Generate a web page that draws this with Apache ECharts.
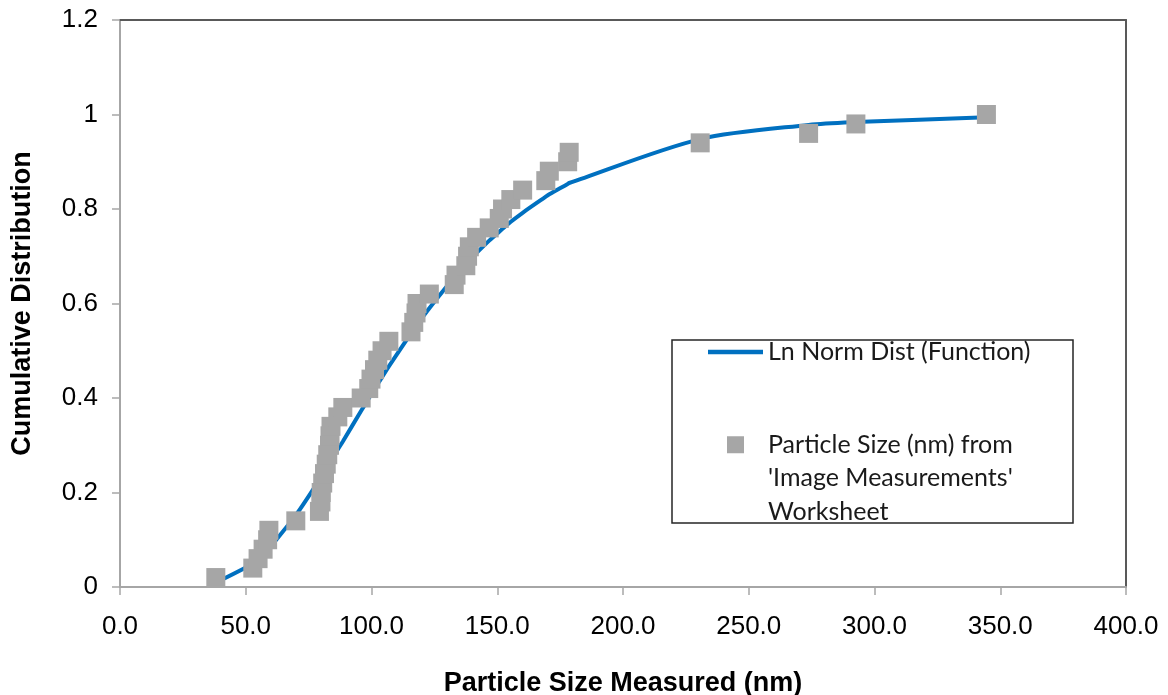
<!DOCTYPE html>
<html>
<head>
<meta charset="utf-8">
<script src="https://cdn.jsdelivr.net/npm/echarts@6/dist/echarts.min.js"></script>
<style>
  html, body { margin: 0; padding: 0; background: #fff; }
  #chart { width: 1168px; height: 695px; }
</style>
</head>
<body>
<div id="chart"></div>
<script>
// Measured particle sizes (nm), sorted ascending
const particleSizes = [
  38.1, 52.8, 54.9, 56.9, 58.7, 59.2, 69.9, 79.3, 79.9, 80.0,
  80.6, 81.3, 82.0, 82.6, 83.3, 83.5, 83.9, 86.6, 88.6, 95.9,
  98.9, 99.8, 101.2, 102.5, 104.2, 106.9, 115.7, 116.8, 117.7, 118.1,
  123.0, 132.9, 133.6, 137.5, 138.2, 138.9, 141.8, 146.8, 150.8, 152.1,
  155.4, 160.1, 169.3, 170.7, 178.0, 178.6, 230.7, 273.8, 292.6, 344.5
];

// Empirical cumulative fraction for each measured particle
const cumulative = [
  0.02, 0.04, 0.06, 0.08, 0.10, 0.12, 0.14, 0.16, 0.18, 0.20,
  0.22, 0.24, 0.26, 0.28, 0.30, 0.32, 0.34, 0.36, 0.38, 0.40,
  0.42, 0.44, 0.46, 0.48, 0.50, 0.52, 0.54, 0.56, 0.58, 0.60,
  0.62, 0.64, 0.66, 0.68, 0.70, 0.72, 0.74, 0.76, 0.78, 0.80,
  0.82, 0.84, 0.86, 0.88, 0.90, 0.92, 0.94, 0.96, 0.98, 1.00
];

// Log-normal distribution function evaluated at the same sizes
const lnNormCurve = [
  0.009, 0.049, 0.059, 0.069, 0.078, 0.081, 0.152, 0.227, 0.233, 0.233,
  0.239, 0.245, 0.251, 0.256, 0.262, 0.264, 0.267, 0.291, 0.308, 0.373,
  0.399, 0.407, 0.419, 0.430, 0.444, 0.467, 0.537, 0.545, 0.552, 0.555,
  0.590, 0.656, 0.660, 0.683, 0.687, 0.691, 0.707, 0.733, 0.752, 0.758,
  0.773, 0.792, 0.826, 0.831, 0.853, 0.855, 0.948, 0.978, 0.984, 0.994
];

const xTicks = { min: 0, max: 400, step: 50 };
const yTicks = { min: 0, max: 1.2, step: 0.2 };

const lineName = 'Ln Norm Dist (Function)';
const pointName = "Particle Size (nm) from\n'Image Measurements'\nWorksheet";

const curveData = particleSizes.map((x, i) => [x, lnNormCurve[i]]);
const pointData = particleSizes.map((x, i) => [x, cumulative[i]]);

const axisGray = '#a6a6a6';
const borderGray = '#595959';
const sansFont = '"Liberation Sans", Arial, sans-serif';
const legendFont = 'Lato, "Noto Sans", sans-serif';

const chart = echarts.init(document.getElementById('chart'), null, { renderer: 'canvas' });

chart.setOption({
  animation: false,
  backgroundColor: '#ffffff',
  grid: {
    left: 120, right: 42, top: 20, bottom: 108,
    containLabel: false,
    outerBoundsMode: 'none'
  },
  xAxis: [
    {
      type: 'value',
      min: xTicks.min, max: xTicks.max, interval: xTicks.step,
      name: 'Particle Size Measured (nm)',
      nameLocation: 'middle',
      nameGap: 83,
      nameTextStyle: { fontFamily: sansFont, fontSize: 27, fontWeight: 'bold', color: '#000' },
      axisLine: { show: true, onZero: false, lineStyle: { color: axisGray, width: 2 } },
      axisTick: { show: true, inside: false, length: 8, lineStyle: { color: axisGray, width: 1.5 } },
      axisLabel: {
        margin: 27,
        fontFamily: sansFont, fontSize: 26, color: '#000',
        formatter: v => v.toFixed(1)
      },
      splitLine: { show: false }
    },
    {
      type: 'value', position: 'top',
      min: xTicks.min, max: xTicks.max,
      axisLine: { show: true, onZero: false, lineStyle: { color: borderGray, width: 2 } },
      axisTick: { show: false }, axisLabel: { show: false }, splitLine: { show: false }
    }
  ],
  yAxis: [
    {
      type: 'value',
      min: yTicks.min, max: yTicks.max, interval: yTicks.step,
      name: 'Cumulative Distribution',
      nameLocation: 'middle',
      nameGap: 84,
      nameTextStyle: { fontFamily: sansFont, fontSize: 27, fontWeight: 'bold', color: '#000' },
      axisLine: { show: true, onZero: false, lineStyle: { color: axisGray, width: 2 } },
      axisTick: { show: true, inside: false, length: 8, lineStyle: { color: axisGray, width: 1.5 } },
      axisLabel: {
        margin: 22,
        fontFamily: sansFont, fontSize: 26, color: '#000',
        formatter: v => String(Math.round(v * 10) / 10)
      },
      splitLine: { show: false }
    },
    {
      type: 'value', position: 'right',
      min: yTicks.min, max: yTicks.max,
      axisLine: { show: true, onZero: false, lineStyle: { color: borderGray, width: 2 } },
      axisTick: { show: false }, axisLabel: { show: false }, splitLine: { show: false }
    }
  ],
  legend: {
    show: true,
    orient: 'vertical',
    left: 708,
    top: 339,
    padding: 0,
    itemWidth: 55,
    itemHeight: 17,
    itemGap: -4,
    selectedMode: false,
    symbolKeepAspect: true,
    // the multi-line entry starts level with its marker
    formatter: name => (name === pointName ? '\n\n' + name : name),
    textStyle: { fontFamily: legendFont, fontSize: 25, color: '#1a1a1a', lineHeight: 26 },
    data: [
      { name: lineName, icon: 'path://M0,0H55V4.5H0Z' },
      {
        name: pointName,
        icon: 'path://M0,0H10V10H0Z',
        textStyle: { lineHeight: 33.5 }
      }
    ]
  },
  graphic: [
    {
      type: 'rect',
      z: 1,
      silent: true,
      shape: { x: 672, y: 340, width: 401, height: 183 },
      style: { fill: '#ffffff', stroke: '#262626', lineWidth: 1.5 }
    }
  ],
  series: [
    {
      name: lineName,
      type: 'line',
      xAxisIndex: 0, yAxisIndex: 0,
      data: curveData,
      smooth: 0.3,
      symbol: 'none',
      lineStyle: { color: '#0070c0', width: 4 },
      itemStyle: { color: '#0070c0' },
      z: 2
    },
    {
      name: pointName,
      type: 'scatter',
      xAxisIndex: 0, yAxisIndex: 0,
      data: pointData,
      symbol: 'rect',
      symbolSize: 19,
      itemStyle: { color: '#a6a6a6', opacity: 1 },
      z: 3
    }
  ]
});
</script>
</body>
</html>
